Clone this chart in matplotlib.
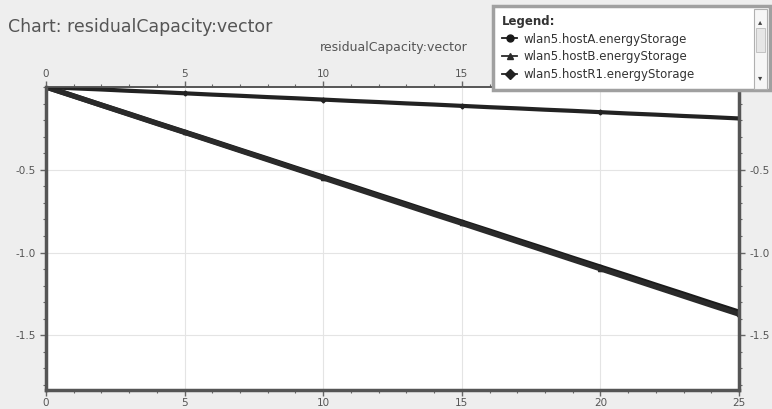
import matplotlib
matplotlib.use('Agg')
import matplotlib.pyplot as plt
from matplotlib.patches import Rectangle
from matplotlib.ticker import MultipleLocator

# data (time in s, residual capacity)
t = [0, 1, 2, 3, 4, 5, 6, 7, 8, 9, 10, 11, 12, 13, 14, 15, 16, 17, 18, 19, 20, 21, 22, 23, 24, 25]
hostA = [0, -0.054, -0.109, -0.163, -0.218, -0.272, -0.326, -0.381, -0.435, -0.490, -0.544, -0.598, -0.653,
         -0.707, -0.762, -0.816, -0.870, -0.925, -0.979, -1.034, -1.088, -1.142, -1.197, -1.251, -1.306, -1.360]
hostB = [0, -0.055, -0.110, -0.165, -0.220, -0.274, -0.329, -0.384, -0.439, -0.494, -0.549, -0.604, -0.659,
         -0.714, -0.769, -0.823, -0.878, -0.933, -0.988, -1.043, -1.098, -1.153, -1.208, -1.263, -1.318, -1.372]
hostR1 = [0, -0.008, -0.015, -0.023, -0.030, -0.038, -0.046, -0.053, -0.061, -0.068, -0.076, -0.084, -0.091,
          -0.099, -0.106, -0.114, -0.122, -0.129, -0.137, -0.144, -0.152, -0.160, -0.167, -0.175, -0.182, -0.190]
names = ['wlan5.hostA.energyStorage', 'wlan5.hostB.energyStorage', 'wlan5.hostR1.energyStorage']
xticks = [0, 5, 10, 15, 20, 25]
top_labels = ['0', '5', '10', '15', '', '']   # 20 and 25 sit under the legend panel

bg = '#eeeeee'
txt = '#555555'
plt.rcParams['font.family'] = ['DejaVu Sans']

fig = plt.figure(figsize=(7.72, 4.09), dpi=100, facecolor=bg)
ax = fig.add_axes([46/772, 1-390/409, (739-46)/772, (390-87)/409])
ax.set_facecolor('white')

l1, = ax.plot(t, hostA, color='#1a1a1a', lw=3.8, marker='o', ms=3, markevery=5)
l2, = ax.plot(t, hostB, color='#2a2a2a', lw=3.8, marker='^', ms=3, markevery=5)
l3, = ax.plot(t, hostR1, color='#222222', lw=3.0, marker='D', ms=2.5, markevery=5)

ax.set_xlim(0, 25)
ax.set_ylim(-1.83, 0)
ax.set_xticks(xticks)
ax.xaxis.set_minor_locator(MultipleLocator(1))
ax.yaxis.set_minor_locator(MultipleLocator(0.1))
ax.set_yticks([-0.5, -1.0, -1.5])
ax.set_yticklabels(['-0.5', '-1.0', '-1.5'])
ax.grid(True, which='major', color='#e4e4e4', lw=0.8)
ax.tick_params(which='both', top=False, bottom=True, left=True, right=True,
               labeltop=False, labelbottom=True, labelleft=True, labelright=True,
               direction='out', colors='#666666', labelcolor=txt, labelsize=7.5)
ax.tick_params(which='major', length=4, width=1)
ax.tick_params(which='minor', length=2.5, width=0.8)
ax.tick_params(axis='x', which='major', pad=2)
for s in ['left', 'bottom', 'right']:
    ax.spines[s].set_color('#555555')
    ax.spines[s].set_linewidth(2.5)
ax.spines['top'].set_color('#555555')
ax.spines['top'].set_linewidth(1.2)

top = ax.secondary_xaxis('top')
top.set_xticks(xticks, top_labels)
top.xaxis.set_minor_locator(MultipleLocator(1))
top.tick_params(which='both', direction='out', colors='#666666', labelcolor=txt, labelsize=7.5)
top.tick_params(which='major', length=4, width=1, pad=2)
top.tick_params(which='minor', length=2.5, width=0.8)
top.spines['top'].set_color('#555555')
top.spines['top'].set_linewidth(1.2)

fig.text(8/772, 1-27/409, 'Chart: residualCapacity:vector', fontsize=12.5, color=txt, va='center', ha='left')
fig.text(394/772, 1-47/409, 'residualCapacity:vector', fontsize=9, color=txt, va='center', ha='center')

# legend panel with scroll bar
leg = fig.legend([l1, l2, l3], names, loc='upper left', mode='expand',
                 bbox_to_anchor=(493/772, 1-93/409, 277/772, 87/409),
                 title='Legend:', alignment='left', fontsize=8.5, title_fontsize=8.5,
                 frameon=True, fancybox=False, edgecolor='#a0a0a0', facecolor='white', framealpha=1,
                 borderpad=0.75, labelspacing=0.4, handlelength=1.3, handletextpad=0.5,
                 borderaxespad=0)
leg.get_title().set_fontweight('bold')
leg.get_title().set_color('#333333')
for tx in leg.get_texts():
    tx.set_color('#333333')
for h in leg.legend_handles:
    h.set_linewidth(1.3)
    h.set_markersize(5)
leg.get_frame().set_linewidth(2.5)
leg.set_zorder(5)

fig.patches.append(Rectangle((754/772, 1-89/409), 13/772, 80/409, transform=fig.transFigure,
                             facecolor='#f6f6f6', edgecolor='#b0b0b0', lw=0.8, zorder=6))
fig.patches.append(Rectangle((756/772, 1-52/409), 9/772, 24/409, transform=fig.transFigure,
                             facecolor='#e6e6e6', edgecolor='#bbbbbb', lw=0.6, zorder=7))
fig.text(760.5/772, 1-22/409, '\u25b4', fontsize=6, color='#444444', ha='center', va='center', zorder=8)
fig.text(760.5/772, 1-78/409, '\u25be', fontsize=6, color='#444444', ha='center', va='center', zorder=8)

fig.savefig('out.png', dpi=100, facecolor=bg)
